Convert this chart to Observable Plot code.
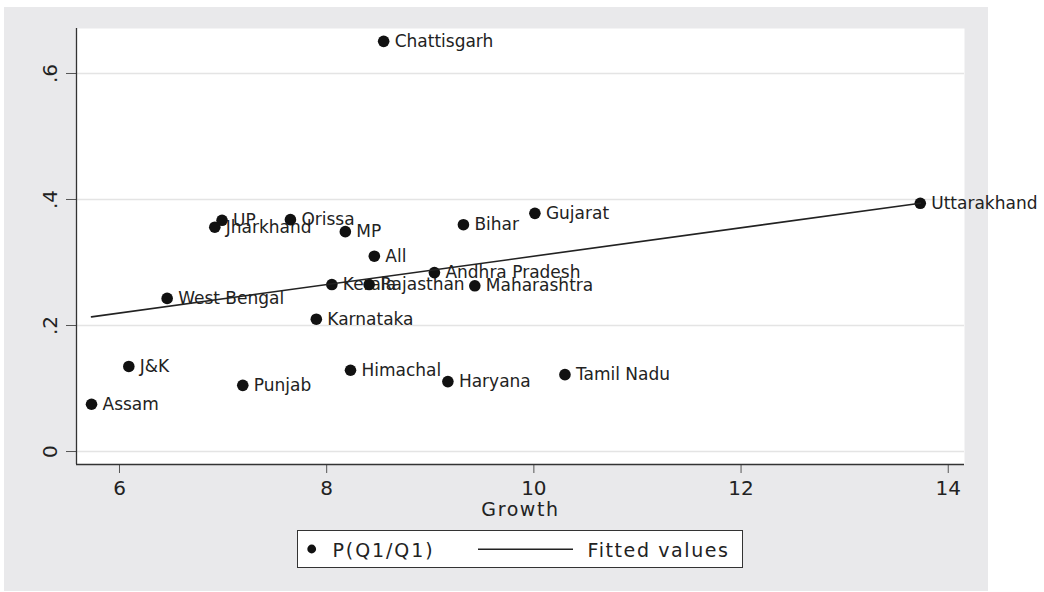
<!DOCTYPE html>
<html>
<head>
<meta charset="utf-8">
<script src="https://cdn.jsdelivr.net/npm/d3@7"></script>
<script src="https://cdn.jsdelivr.net/npm/@observablehq/plot@0.6"></script>
<style>
  html, body { margin: 0; padding: 0; background: #ffffff; }
  #panel { position: absolute; left: 4px; top: 7px; width: 984px; height: 584px; background: #e9e9eb; }
  #chart { position: absolute; left: 0; top: 0; }
  #legend { position: absolute; left: 293px; top: 523px; overflow: visible; }
</style>
</head>
<body>
<div id="panel">
  <div id="chart"></div>
  <svg id="legend" width="446" height="38"></svg>
</div>
<script>
// ---- data ----
const states = ["Chattisgarh", "Uttarakhand", "Gujarat", "Bihar", "UP", "Jharkhand", "Orissa", "MP", "All",
  "Andhra Pradesh", "Kerala", "Rajasthan", "Maharashtra", "West Bengal", "Karnataka", "J&K", "Himachal",
  "Punjab", "Haryana", "Tamil Nadu", "Assam"];
const growth = [8.55, 13.73, 10.01, 9.32, 6.99, 6.92, 7.65, 8.18, 8.46,
  9.04, 8.05, 8.41, 9.43, 6.46, 7.90, 6.09, 8.23,
  7.19, 9.17, 10.30, 5.73];
const pQ1 = [0.651, 0.394, 0.378, 0.360, 0.367, 0.356, 0.368, 0.349, 0.310,
  0.284, 0.265, 0.265, 0.263, 0.243, 0.210, 0.135, 0.129,
  0.105, 0.111, 0.122, 0.075];

const xTicks = [6, 8, 10, 12, 14];
const xTickLabels = ["6", "8", "10", "12", "14"];
const yTicks = [0, 0.2, 0.4, 0.6];
const yTickLabels = ["0", ".2", ".4", ".6"];
const xDomain = [5.585, 14.157];
const yDomain = [-0.0206, 0.6714];
const xTitle = "Growth";
const legendLabels = ["P(Q1/Q1)", "Fitted values"];

// ---- table built from the arrays ----
const rows = states.map((s, i) => ({state: s, growth: growth[i], p: pQ1[i]}));
const xLabelMap = new Map(xTicks.map((t, i) => [t, xTickLabels[i]]));
const yLabelRows = yTicks.map((t, i) => ({v: t, label: yTickLabels[i]}));

const chart = Plot.plot({
  width: 984,
  height: 520,
  marginLeft: 72,
  marginRight: 24,
  marginTop: 21,
  marginBottom: 63,
  x: {domain: xDomain},
  y: {domain: yDomain},
  style: {background: "transparent", overflow: "visible", fontFamily: "'DejaVu Sans', sans-serif", color: "#222"},
  marks: [
    Plot.frame({fill: "white", stroke: "none"}),
    Plot.gridY(yTicks, {stroke: "#e4e4e4", strokeOpacity: 1, strokeWidth: 1.5}),
    Plot.axisY(yTicks, {tickSize: 10, tickFormat: () => null, label: null, stroke: "#555"}),
    Plot.text(yLabelRows, {y: "v", text: "label", frameAnchor: "left", dx: -25.5, rotate: -90,
      textAnchor: "middle", lineAnchor: "middle", fontSize: 20, fill: "#222"}),
    Plot.axisX(xTicks, {tickSize: 9, tickPadding: 7, tickFormat: d => xLabelMap.get(d),
      fontSize: 20, label: null, stroke: "#555"}),
    Plot.text([xTitle], {text: d => d, frameAnchor: "bottom", dy: 38, lineAnchor: "top", fontSize: 19, fill: "#222"}),
    Plot.text(rows, {x: "growth", y: "p", text: "state", dx: 11, textAnchor: "start", lineAnchor: "middle",
      fontSize: 17, fill: "#222"}),
    Plot.dot(rows, {x: "growth", y: "p", r: 5.8, fill: "#111", stroke: "none"}),
    Plot.linearRegressionY(rows, {x: "growth", y: "p", ci: 0, stroke: "#222", strokeWidth: 1.6}),
    Plot.ruleX([xDomain[0]], {stroke: "#333", strokeWidth: 1.3}),
    Plot.ruleY([yDomain[0]], {stroke: "#333", strokeWidth: 1.3})
  ]
});
document.getElementById("chart").appendChild(chart);
d3.select(chart).selectAll("text").filter(function () { return this.textContent === xTitle; })
  .style("letter-spacing", "1.6px");

// ---- legend ----
const lg = d3.select("#legend").style("font-family", "'DejaVu Sans', sans-serif");
lg.append("rect").attr("x", 0.5).attr("y", 0.5).attr("width", 445).attr("height", 37)
  .attr("fill", "white").attr("stroke", "#333").attr("stroke-width", 1);
lg.append("circle").attr("cx", 14.7).attr("cy", 19).attr("r", 4.4).attr("fill", "#111");
lg.append("text").attr("x", 35.5).attr("y", 26.5).attr("font-size", 19).attr("letter-spacing", "1.9px")
  .attr("fill", "#222").text(legendLabels[0]);
lg.append("line").attr("x1", 181).attr("x2", 276).attr("y1", 19.3).attr("y2", 19.3)
  .attr("stroke", "#222").attr("stroke-width", 1.5);
lg.append("text").attr("x", 290.5).attr("y", 26.5).attr("font-size", 19).attr("letter-spacing", "1.6px")
  .attr("fill", "#222").text(legendLabels[1]);
</script>
</body>
</html>
